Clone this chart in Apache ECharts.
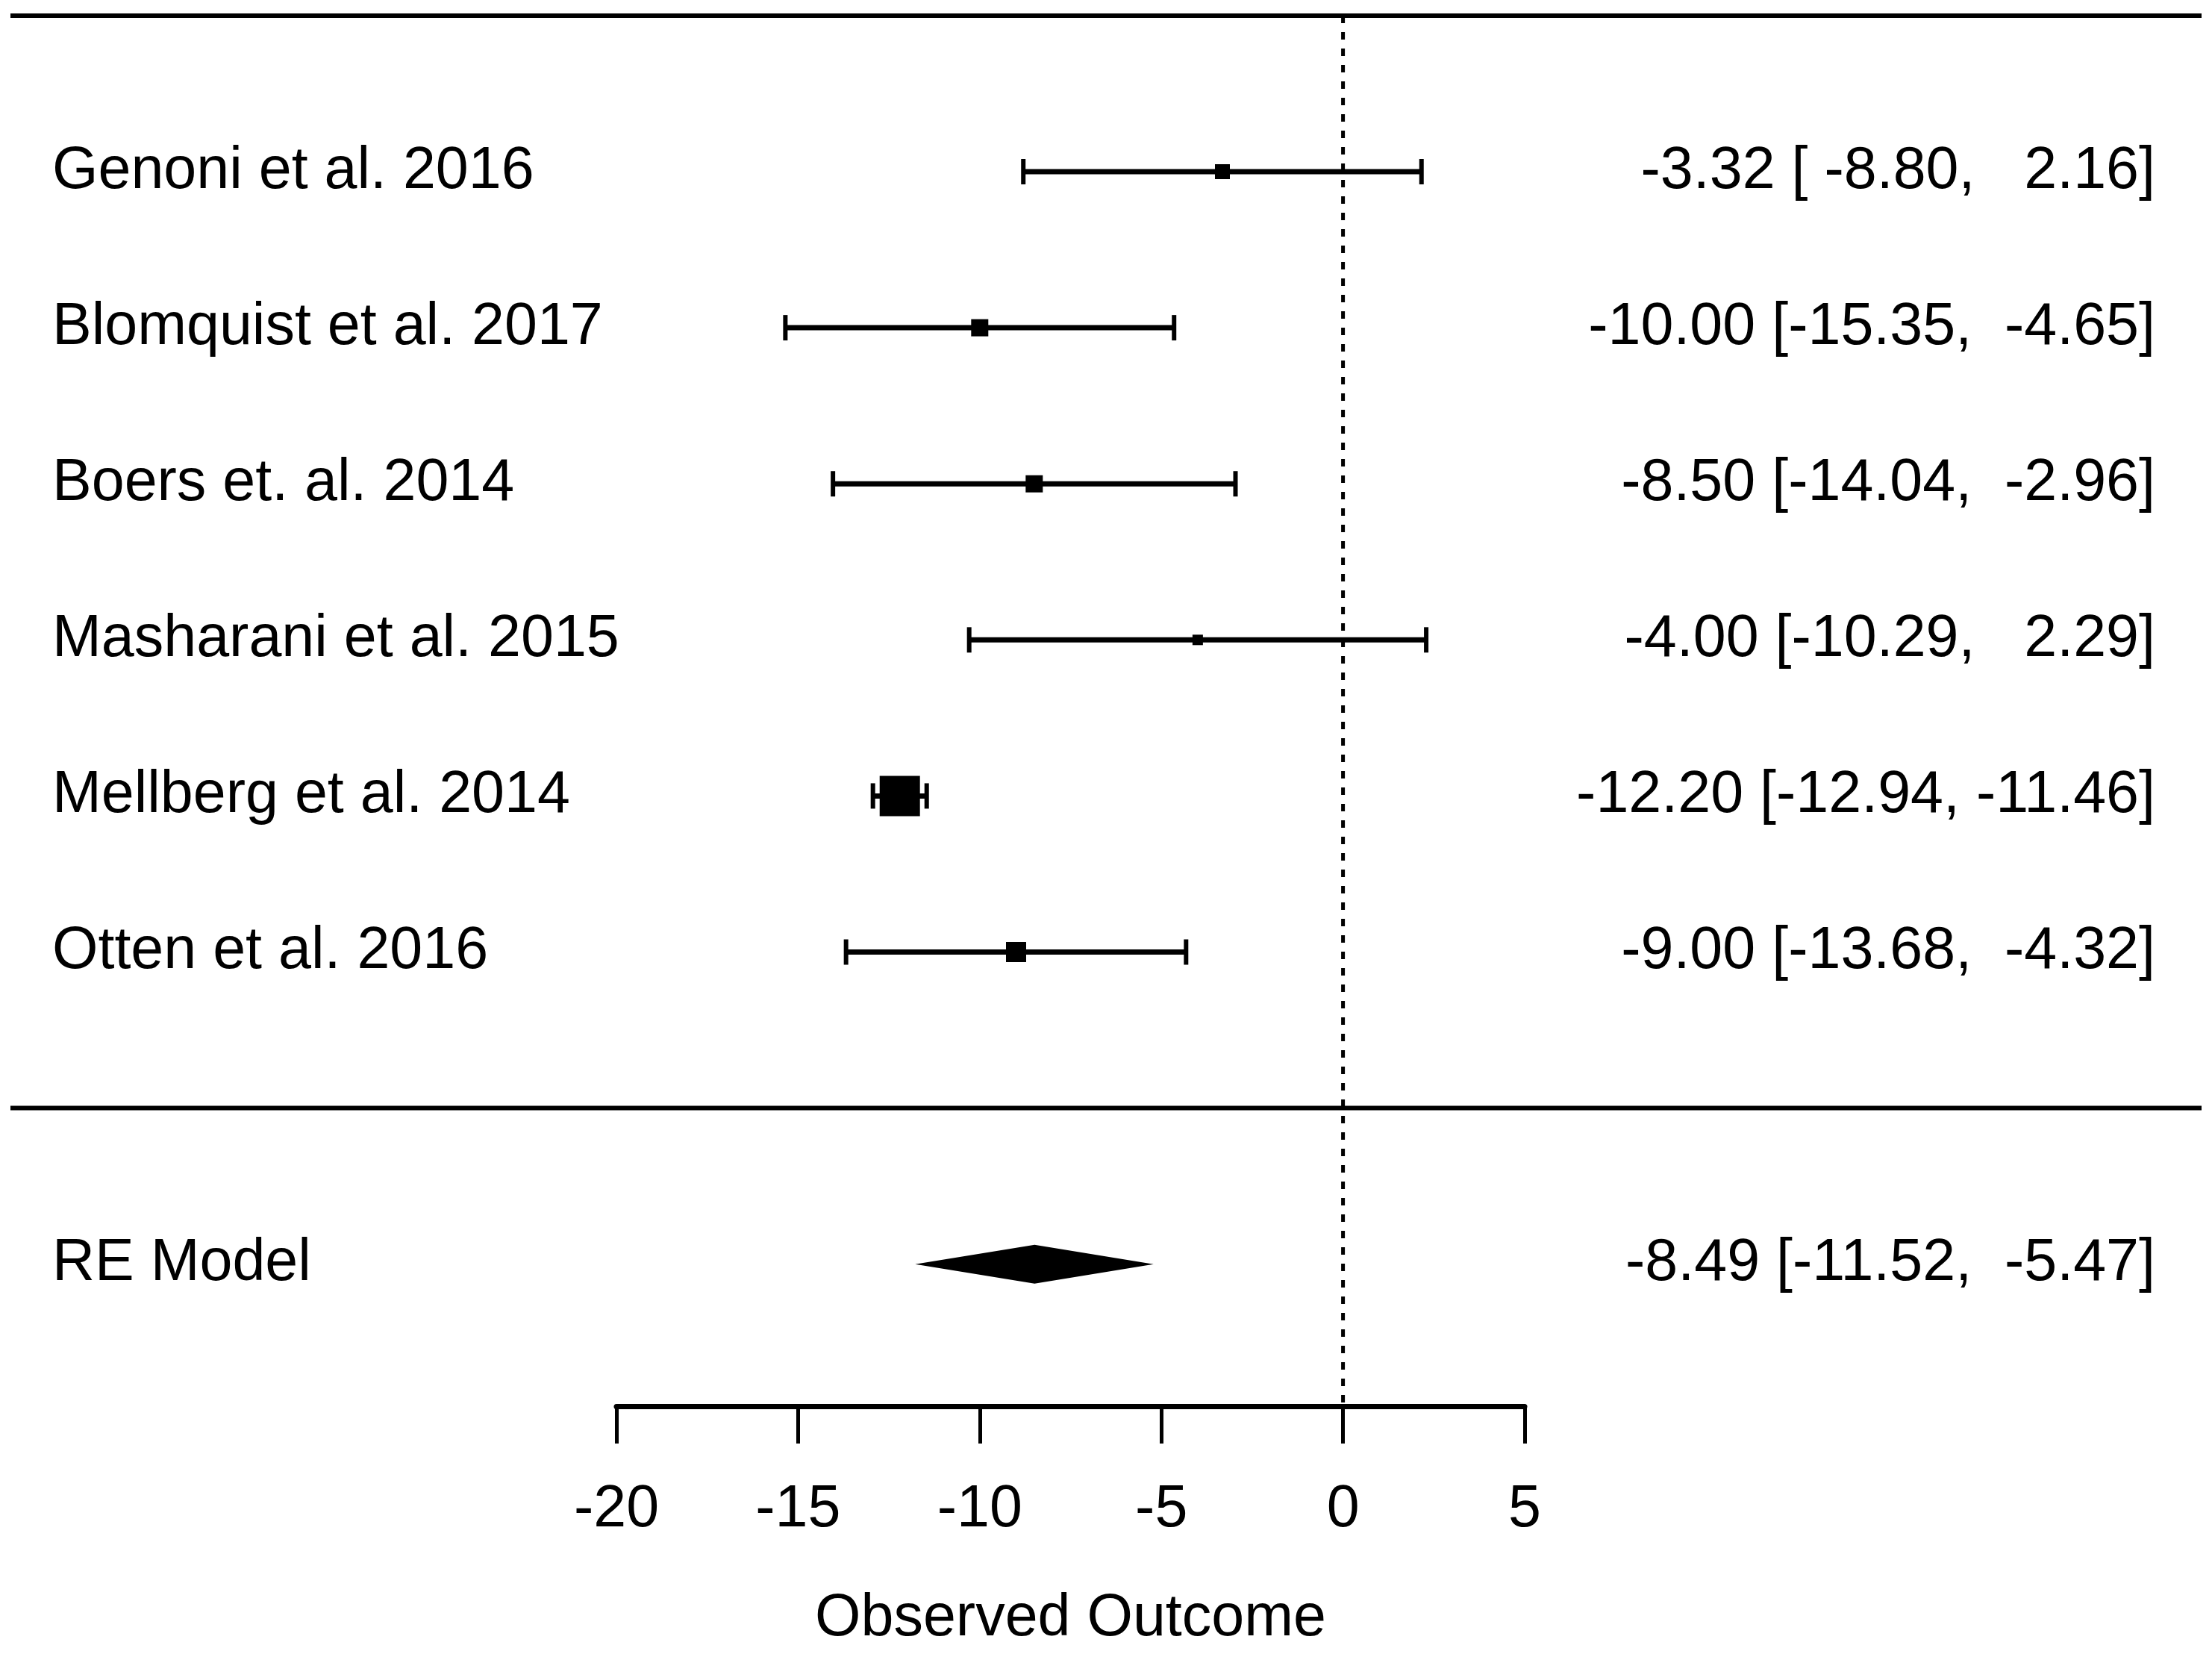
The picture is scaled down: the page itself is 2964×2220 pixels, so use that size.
<!DOCTYPE html>
<html>
<head>
<meta charset="utf-8">
<script src="https://cdn.jsdelivr.net/npm/echarts@6/dist/echarts.min.js"></script>
<style>
  html, body { margin: 0; padding: 0; background: #fff; }
  #chart { width: 2964px; height: 2220px; }
</style>
</head>
<body>
<div id="chart"></div>
<script>
// study data
var studies  = ['Genoni et al. 2016', 'Blomquist et al. 2017', 'Boers et. al. 2014',
                'Masharani et al. 2015', 'Mellberg et al. 2014', 'Otten et al. 2016'];
var estimate = [-3.32, -10.00, -8.50, -4.00, -12.20, -9.00];
var lower    = [-8.80, -15.35, -14.04, -10.29, -12.94, -13.68];
var upper    = [2.16, -4.65, -2.96, 2.29, -11.46, -4.32];
var rows     = [6, 5, 4, 3, 2, 1];

// summary (random effects model)
var summaryLabel = 'RE Model';
var summaryEst = -8.49;
var summaryLo  = -11.52;
var summaryHi  = -5.47;
var summaryRow = -1;

var xTicks = [-20, -15, -10, -5, 0, 5];

// styling
var font = 'Liberation Sans, Arial, sans-serif';
var fontSize = 79;
var boxSize = [20, 23, 23, 14, 54, 27];
var yMin = -1.91, yMax = 7.1;
var topRow = 7, sepRow = 0;

function pad(v) {
    var s = v.toFixed(2);
    while (s.length < 6) s = ' ' + s;
    return s;
}
function ciText(e, l, h) {
    return e.toFixed(2) + ' [' + pad(l) + ', ' + pad(h) + ']';
}

var leftText = studies.concat([summaryLabel]);
var rightText = estimate.map(function (e, i) { return ciText(e, lower[i], upper[i]); })
    .concat([ciText(summaryEst, summaryLo, summaryHi)]);
var textRows = rows.concat([summaryRow]);

function textItem(align) {
    return function (params, api) {
        var p = api.coord([api.value(0), api.value(1)]);
        var i = api.value(2);
        return {
            type: 'text',
            x: p[0], y: p[1],
            style: {
                text: align === 'left' ? leftText[i] : rightText[i],
                fontFamily: font, fontSize: fontSize, fill: '#000',
                align: align, verticalAlign: 'middle'
            }
        };
    };
}

var option = {
    animation: false,
    backgroundColor: '#fff',
    grid: [
        {left: 826, right: 921, top: 0, bottom: 336},
        {left: 0, right: 0, top: 0, bottom: 336}
    ],
    xAxis: [
        {
            gridIndex: 0, type: 'value', min: xTicks[0], max: xTicks[xTicks.length - 1], interval: 5,
            axisLine: {show: true, onZero: false, lineStyle: {color: '#000', width: 7}},
            axisTick: {show: true, length: 50, lineStyle: {color: '#000', width: 5}},
            axisLabel: {fontFamily: font, fontSize: fontSize, color: '#000', margin: 100},
            splitLine: {show: false},
            name: 'Observed Outcome', nameLocation: 'middle', nameGap: 246,
            nameTextStyle: {fontFamily: font, fontSize: fontSize, color: '#000'}
        },
        {gridIndex: 1, type: 'value', min: 0, max: 2964, show: false}
    ],
    yAxis: [
        {gridIndex: 0, type: 'value', min: yMin, max: yMax, show: false},
        {gridIndex: 1, type: 'value', min: yMin, max: yMax, show: false}
    ],
    series: [
        {   // horizontal rules
            type: 'line', xAxisIndex: 1, yAxisIndex: 1, symbol: 'none',
            data: [[14, topRow], [2950, topRow]],
            lineStyle: {color: '#000', width: 6}
        },
        {
            type: 'line', xAxisIndex: 1, yAxisIndex: 1, symbol: 'none',
            data: [[14, sepRow], [2950, sepRow]],
            lineStyle: {color: '#000', width: 6}
        },
        {   // reference line at zero
            type: 'line', xAxisIndex: 0, yAxisIndex: 0, symbol: 'none', z: 1,
            data: [[0, topRow], [0, yMin]],
            lineStyle: {color: '#000', width: 5, type: [10, 12]}
        },
        {   // study CIs and boxes
            type: 'custom', xAxisIndex: 0, yAxisIndex: 0, z: 3,
            data: rows.map(function (r, i) { return [estimate[i], lower[i], upper[i], r, i]; }),
            encode: {x: [0, 1, 2], y: 3},
            renderItem: function (params, api) {
                var c = api.coord([api.value(0), api.value(3)]);
                var l = api.coord([api.value(1), api.value(3)]);
                var h = api.coord([api.value(2), api.value(3)]);
                var s = boxSize[api.value(4)];
                var st = {stroke: '#000', lineWidth: 7};
                var wt = {stroke: '#000', lineWidth: 6};
                return {type: 'group', children: [
                    {type: 'line', shape: {x1: l[0], y1: l[1], x2: h[0], y2: h[1]}, style: st},
                    {type: 'line', shape: {x1: l[0], y1: l[1] - 17, x2: l[0], y2: l[1] + 17}, style: wt},
                    {type: 'line', shape: {x1: h[0], y1: h[1] - 17, x2: h[0], y2: h[1] + 17}, style: wt},
                    {type: 'rect', shape: {x: c[0] - s / 2, y: c[1] - s / 2, width: s, height: s},
                        style: {fill: '#000'}}
                ]};
            }
        },
        {   // summary diamond
            type: 'custom', xAxisIndex: 0, yAxisIndex: 0, z: 3,
            data: [[summaryEst, summaryLo, summaryHi, summaryRow]],
            encode: {x: [0, 1, 2], y: 3},
            renderItem: function (params, api) {
                var c = api.coord([api.value(0), api.value(3)]);
                var l = api.coord([api.value(1), api.value(3)]);
                var h = api.coord([api.value(2), api.value(3)]);
                return {
                    type: 'polygon',
                    shape: {points: [[l[0], l[1]], [c[0], c[1] - 24], [h[0], h[1]], [c[0], c[1] + 24]]},
                    style: {fill: '#000', stroke: '#000', lineWidth: 4}
                };
            }
        },
        {   // study names
            type: 'custom', xAxisIndex: 1, yAxisIndex: 1,
            data: textRows.map(function (r, i) { return [70, r, i]; }),
            renderItem: textItem('left')
        },
        {   // estimates and CIs
            type: 'custom', xAxisIndex: 1, yAxisIndex: 1,
            data: textRows.map(function (r, i) { return [2888, r, i]; }),
            renderItem: textItem('right')
        }
    ]
};

var myChart = echarts.init(document.getElementById('chart'));
myChart.setOption(option);
</script>
</body>
</html>
